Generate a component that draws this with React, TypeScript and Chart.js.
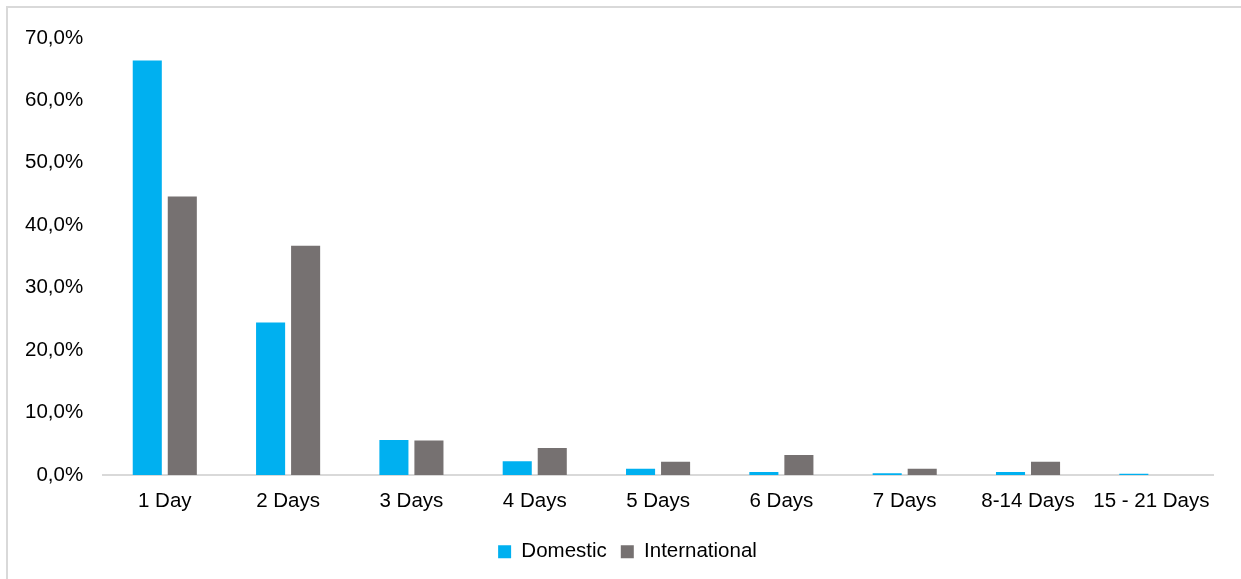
import React, { useEffect, useRef } from "react";
import { Chart, registerables } from "chart.js";

Chart.register(...registerables);

const categories = ["1 Day", "2 Days", "3 Days", "4 Days", "5 Days", "6 Days", "7 Days", "8-14 Days", "15 - 21 Days"];
const domestic = [66.4, 24.4, 5.6, 2.2, 1.0, 0.45, 0.25, 0.45, 0.2];
const international = [44.6, 36.7, 5.5, 4.3, 2.1, 3.2, 1.0, 2.1, 0];
const yTicks = [0, 10, 20, 30, 40, 50, 60, 70];

const FONT = "'Liberation Sans', Arial, sans-serif";

const legendShift = {
  id: "legendShift",
  afterLayout(chart: any) {
    if (chart.legend) {
      chart.legend.left += 14.5;
      chart.legend.right += 14.5;
    }
  },
};

export default function App() {
  const ref = useRef<HTMLCanvasElement | null>(null);

  useEffect(() => {
    if (!ref.current) return;
    const chart = new Chart(ref.current, {
      type: "bar",
      data: {
        labels: categories,
        datasets: [
          {
            label: "Domestic",
            data: domestic,
            backgroundColor: "#00B0F0",
            barPercentage: 0.83,
            categoryPercentage: 0.568,
          },
          {
            label: "International",
            data: international,
            backgroundColor: "#767171",
            barPercentage: 0.83,
            categoryPercentage: 0.568,
          },
        ],
      },
      plugins: [legendShift],
      options: {
        animation: false,
        responsive: false,
        maintainAspectRatio: false,
        layout: { padding: { left: 13, right: 28, top: 38, bottom: 7 } },
        plugins: {
          title: { display: false },
          tooltip: { enabled: false },
          legend: {
            position: "bottom",
            labels: {
              boxWidth: 13,
              boxHeight: 13,
              padding: 14,
              color: "#000",
              font: { family: FONT, size: 20.5 },
            },
          },
        },
        scales: {
          x: {
            grid: { display: true, drawOnChartArea: false, drawTicks: false },
            border: { display: true, color: "#d9d9d9", width: 2 },
            ticks: { color: "#000", padding: 14, font: { family: FONT, size: 20.5 }, maxRotation: 0, autoSkip: false },
          },
          y: {
            min: 0,
            max: 70,
            afterBuildTicks: (scale: any) => {
              scale.ticks = yTicks.map((v) => ({ value: v }));
            },
            grid: { display: false },
            border: { display: false },
            ticks: {
              color: "#000",
              padding: 12,
              font: { family: FONT, size: 20.5 },
              callback: (v: any) => Number(v).toFixed(1).replace(".", ",") + "%",
            },
          },
        },
      },
    });
    return () => chart.destroy();
  }, []);

  return (
    <div style={{ position: "fixed", left: 0, top: 0, width: 1241, height: 579, overflow: "hidden", background: "#fff" }}>
      <div
        style={{
          position: "absolute",
          left: 6,
          top: 6,
          width: 1300,
          height: 700,
          borderLeft: "2px solid #d9d9d9",
          borderTop: "2px solid #d9d9d9",
        }}
      />
      <canvas ref={ref} width={1241} height={579} style={{ position: "absolute", left: 0, top: 0 }} />
    </div>
  );
}
